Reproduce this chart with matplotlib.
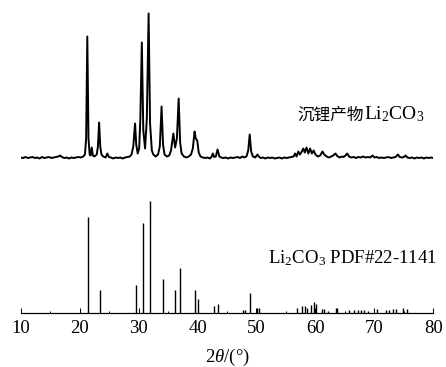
import matplotlib.pyplot as plt
import numpy as np

plt.rcParams['font.family'] = ['Liberation Serif', 'Noto Sans CJK SC']
plt.rcParams['mathtext.fontset'] = 'custom'
plt.rcParams['mathtext.rm'] = 'Liberation Serif'
plt.rcParams['mathtext.it'] = 'Liberation Serif:italic'

# measured pattern of the product (2theta, intensity above its baseline)
sample_tth = [10.0, 10.4, 10.8, 11.2, 11.6, 12.0, 12.4, 12.8, 13.2, 13.6, 14.0, 14.4, 14.8, 15.2,
              15.6, 16.0, 16.4, 16.7, 17.0, 17.4, 17.8, 18.2, 18.6, 19.0, 19.4, 19.8, 20.2, 20.6,
              20.9, 21.1, 21.3, 21.5, 21.7, 21.85, 22.05, 22.25, 22.5, 22.9, 23.1, 23.3, 23.5, 23.7,
              24.0, 24.4, 24.7, 24.95, 25.3, 25.7, 26.1, 26.5, 26.9, 27.3, 27.7, 28.1, 28.5, 28.8,
              29.1, 29.4, 29.6, 29.85, 30.1, 30.3, 30.55, 30.8, 31.1, 31.4, 31.7, 31.95, 32.25, 32.5,
              32.9, 33.3, 33.6, 33.9, 34.15, 34.4, 34.8, 35.2, 35.5, 35.9, 36.2, 36.5, 36.8, 37.05,
              37.3, 37.7, 38.1, 38.5, 38.9, 39.2, 39.5, 39.7, 39.95, 40.2, 40.5, 40.9, 41.3, 41.7,
              42.1, 42.4, 42.6, 42.8, 43.1, 43.4, 43.7, 44.0, 44.4, 44.8, 45.2, 45.6, 46.0, 46.4,
              46.8, 47.2, 47.6, 47.9, 48.3, 48.6, 48.85, 49.1, 49.4, 49.8, 50.15, 50.4, 50.7, 51.1,
              51.5, 51.9, 52.3, 52.7, 53.1, 53.5, 53.9, 54.3, 54.7, 55.1, 55.5, 55.9, 56.3, 56.55,
              56.8, 57.1, 57.35, 57.6, 57.95, 58.2, 58.5, 58.8, 59.1, 59.4, 59.7, 60.0, 60.4, 60.8,
              61.2, 61.5, 61.9, 62.3, 62.7, 63.0, 63.4, 63.7, 64.1, 64.5, 64.8, 65.1, 65.4, 65.7,
              66.1, 66.5, 66.9, 67.3, 67.7, 68.1, 68.5, 68.9, 69.3, 69.7, 70.0, 70.4, 70.8, 71.2,
              71.6, 72.0, 72.4, 72.8, 73.2, 73.6, 74.0, 74.3, 74.7, 75.0, 75.3, 75.6, 76.0, 76.4,
              76.8, 77.2, 77.6, 78.0, 78.4, 78.8, 79.2, 79.6, 80.0]
sample_int = [1, 0.5, 1.5, 0.5, 1, 1.5, 0.5, 1, 0, 1.5, 0.5, 1, 1.5, 0.5,
              1, 1.5, 2, 3, 1.5, 0.5, 1, 0, 1, 0.5, 1, 1.5, 1, 2,
              4, 20, 122, 20, 4, 3, 11, 3, 2, 4, 12, 36, 12, 4,
              2, 1, 5, 1.5, 1, 0, 1, 0.5, 1, 0, 1, 1.5, 2, 4,
              12, 35, 14, 5, 10, 40, 116, 28, 10, 40, 145, 35, 8, 4,
              2, 4, 12, 52, 14, 4, 2, 3, 8, 25, 11, 20, 60, 16,
              5, 2, 1, 2, 4, 10, 27, 20, 18, 6, 2, 1, 0.5, 1,
              0, 2, 5, 1.5, 2, 9, 2, 1, 0.5, 1, 0, 1, 0.5, 1,
              1.5, 0.5, 2, 1, 2, 8, 24, 7, 2, 1, 4, 2, 0.5, 1,
              0, 1, 0.5, 1, 0, 0.5, 1, 0, 1, 0.5, 1, 1.5, 2, 5,
              2, 7, 4, 6, 10, 6, 11, 5, 10, 5, 8, 4, 2, 3,
              7, 4, 2, 1, 2, 3, 5, 2.5, 1, 2, 1.5, 3, 5, 2,
              1, 1.5, 0.5, 1.5, 1, 2, 1, 1.5, 1, 3, 1, 1.5, 0.5, 1,
              0.5, 1, 1.5, 0.5, 1, 1.5, 4, 1.5, 1, 1.5, 3, 1, 0.5, 1,
              0, 1, 0.5, 1, 0, 1, 0.5, 1, 0.5]

# reference card PDF#22-1141
ref_tth = [21.35, 23.45, 29.55, 30.7, 31.95, 34.15, 36.15, 37.0, 39.65, 40.1, 42.85, 43.55,
           47.65, 48.05, 48.9, 50.05, 50.45, 56.83, 57.68, 58.24, 58.63, 59.2, 59.76, 60.1,
           61.17, 61.51, 62.08, 63.44, 63.72, 65.75, 66.55, 67.28, 67.74, 68.25, 68.98, 70.5,
           71.98, 72.49, 73.22, 73.68, 74.9, 75.49]
ref_int = [96, 23, 28, 90, 112.6, 34, 23, 45, 23, 14, 7, 9,
           3, 3, 20.6, 5, 5, 5, 7, 7, 5, 8, 11, 9,
           4, 4, 2, 5, 5, 3, 3, 3, 3, 3, 2, 4,
           3, 3, 4, 4, 5, 4]

offset = 154.8

fig = plt.figure(figsize=(4.46, 3.67), dpi=100)
ax = fig.add_axes([20.7 / 446, 53.7 / 367, 412.6 / 446, 308.3 / 367])

ax.plot(sample_tth, np.array(sample_int) + offset, color='black', lw=1.4)
ax.vlines(ref_tth, 0, ref_int, color='black', lw=1.0)

ax.set_xlim(10, 80)
ax.set_ylim(0, 308.3)
for s in ['left', 'right', 'top']:
    ax.spines[s].set_visible(False)
ax.spines['bottom'].set_linewidth(0.9)
ax.set_yticks([])
ax.set_xticks(np.arange(10, 81, 10))
ax.set_xticks(np.arange(15, 80, 10), minor=True)
ax.tick_params(axis='x', which='major', direction='in', length=3.6, width=0.7,
               labelsize=13.5, pad=5)
ax.tick_params(axis='x', which='minor', direction='in', length=1.5, width=0.7)

ax.text(68.2, 194, '沉锂产物', ha='right', va='baseline', fontsize=12,
        family=['Noto Sans CJK SC'])
ax.text(68.2, 194, 'Li$_2$CO$_3$', ha='left', va='baseline', fontsize=14)
ax.text(51.96, 50, 'Li$_2$CO$_3$ PDF#22-1141', ha='left', va='baseline', fontsize=13.5)

fig.text(227 / 446, 5 / 367, r'2$\it{\theta}$/(°)', ha='center', va='baseline', fontsize=13.5)

fig.savefig('out.png', dpi=100)
